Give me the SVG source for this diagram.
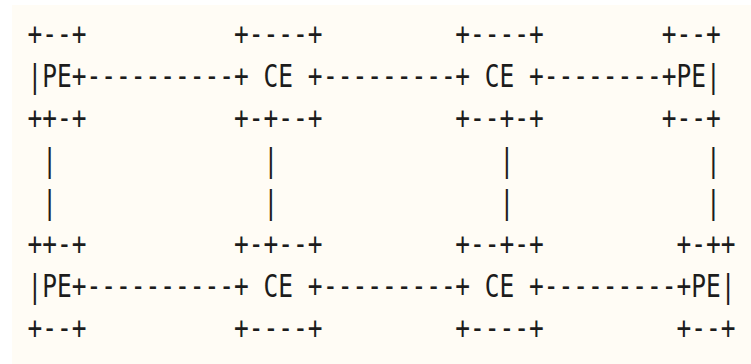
<svg xmlns="http://www.w3.org/2000/svg" width="751" height="364" viewBox="0 0 751 364">
  <style>
    text { font-family: "DejaVu Sans Mono", "Liberation Mono", monospace; font-size: 24.5px; fill: #1c1c1c; white-space: pre; }
  </style>
  <rect x="0" y="0" width="751" height="364" fill="#ffffff"/>
  <rect x="12" y="5" width="739" height="359" fill="#fffcf5"/>
  <!-- monospace grid: column c starts at x = 27.6 + 14.75*c; rows stretched vertically -->
  <g transform="scale(1,1.3)">
    <g id="pe-top-left">
      <text x="27.6" y="34.62">+--+</text>
      <text x="27.6" y="66.92">|PE+</text>
      <text x="27.6" y="99.23">++-+</text>
    </g>
    <g id="ce-top-1">
      <text x="234.1" y="34.62">+----+</text>
      <text x="234.1" y="66.92">+ CE +</text>
      <text x="234.1" y="99.23">+-+--+</text>
    </g>
    <g id="ce-top-2">
      <text x="455.35" y="34.62">+----+</text>
      <text x="455.35" y="66.92">+ CE +</text>
      <text x="455.35" y="99.23">+--+-+</text>
    </g>
    <g id="pe-top-right">
      <text x="661.85" y="34.62">+--+</text>
      <text x="661.85" y="66.92">+PE|</text>
      <text x="661.85" y="99.23">+--+</text>
    </g>
    <g id="pe-bottom-left">
      <text x="27.6" y="196.15">++-+</text>
      <text x="27.6" y="228.46">|PE+</text>
      <text x="27.6" y="260.77">+--+</text>
    </g>
    <g id="ce-bottom-1">
      <text x="234.1" y="196.15">+-+--+</text>
      <text x="234.1" y="228.46">+ CE +</text>
      <text x="234.1" y="260.77">+----+</text>
    </g>
    <g id="ce-bottom-2">
      <text x="455.35" y="196.15">+--+-+</text>
      <text x="455.35" y="228.46">+ CE +</text>
      <text x="455.35" y="260.77">+----+</text>
    </g>
    <g id="pe-bottom-right">
      <text x="676.6" y="196.15">+-++</text>
      <text x="676.6" y="228.46">+PE|</text>
      <text x="676.6" y="260.77">+--+</text>
    </g>
    <g id="connectors">
      <!-- top chain -->
      <text x="86.6" y="66.92">----------</text>
      <text x="323.1" y="66.92">---------</text>
      <text x="543.85" y="66.92">--------</text>
      <!-- bottom chain -->
      <text x="86.6" y="228.46">----------</text>
      <text x="323.1" y="228.46">---------</text>
      <text x="543.85" y="228.46">---------</text>
      <!-- vertical links -->
      <text x="42.35" y="131.54">|</text>
      <text x="42.35" y="163.85">|</text>
      <text x="263.6" y="131.54">|</text>
      <text x="263.6" y="163.85">|</text>
      <text x="499.6" y="131.54">|</text>
      <text x="499.6" y="163.85">|</text>
      <text x="706.1" y="131.54">|</text>
      <text x="706.1" y="163.85">|</text>
    </g>
  </g>
</svg>
